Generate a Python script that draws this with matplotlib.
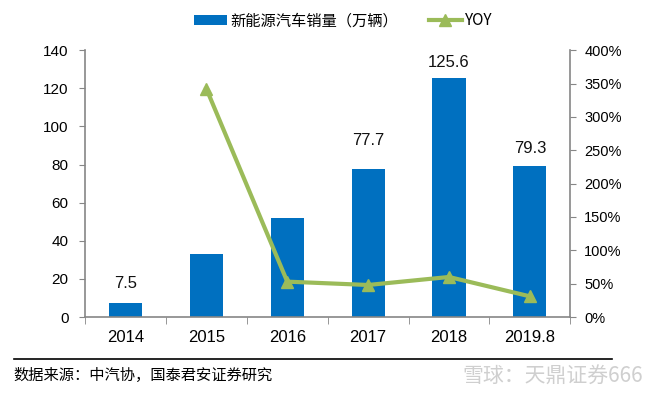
import numpy as np
import matplotlib.pyplot as plt
from matplotlib.ticker import FuncFormatter

plt.rcParams['font.family'] = ['Liberation Sans', 'Noto Sans CJK SC', 'DejaVu Sans']

years = ['2014', '2015', '2016', '2017', '2018', '2019.8']
sales = [7.5, 33.1, 51.7, 77.7, 125.6, 79.3]
yoy = [np.nan, 342, 53, 48, 60, 31]
shown_labels = {0: '7.5', 3: '77.7', 4: '125.6', 5: '79.3'}
label_offsets = {0: 10, 3: 15, 4: 8, 5: 9}

blue = '#0070C0'
green = '#9BBB59'
grey = '#868686'

fig = plt.figure(figsize=(6.6, 3.98), dpi=100)
ax = fig.add_axes([0.129, 0.2035, 0.735, 0.6705])
ax2 = ax.twinx()

x = np.arange(len(years))
bars = ax.bar(x, sales, width=0.41, color=blue, zorder=2, label='新能源汽车销量（万辆）')
for i, txt in shown_labels.items():
    ax.text(x[i], sales[i] + label_offsets[i], txt, ha='center', va='center',
            fontsize=12, color='#111111')

line, = ax2.plot(x, yoy, color=green, lw=3, marker='^', ms=9,
                 markerfacecolor=green, markeredgecolor=green, label='YOY')

ax.set_xlim(-0.5, len(years) - 0.5)
ax.set_ylim(0, 140)
ax.set_yticks(range(0, 141, 20))
ax2.set_ylim(0, 400)
ax2.set_yticks(range(0, 401, 50))
ax2.yaxis.set_major_formatter(FuncFormatter(lambda v, p: f'{int(v)}%'))

ax.set_xticks(x)
ax.set_xticklabels(years, fontsize=12)
ax.set_xticks(np.arange(-0.5, len(years), 1), minor=True)
ax.tick_params(axis='x', which='major', length=0, pad=9)
ax.tick_params(axis='x', which='minor', length=5, color=grey, direction='out')
ax.tick_params(axis='y', labelsize=11, length=4, color=grey, pad=8)
ax2.tick_params(axis='y', labelsize=10.5, length=4, color=grey, pad=6)

for a in (ax, ax2):
    a.spines['top'].set_visible(False)
    for s in ('left', 'right', 'bottom'):
        a.spines[s].set_color(grey)
        a.spines[s].set_linewidth(1.2)
ax.spines['right'].set_visible(False)
ax2.spines['left'].set_visible(False)
ax2.spines['bottom'].set_visible(False)

fig.legend(handles=[bars, line], loc='center', bbox_to_anchor=(0.52, 0.948), ncol=2,
           frameon=False, fontsize=11, handlelength=2.2, handletextpad=0.2,
           columnspacing=2.0, prop={'family': ['Noto Sans CJK SC'], 'size': 11})

fig.add_artist(plt.Line2D([0.021, 0.927], [0.098, 0.098], color='black', lw=1.2))
fig.text(0.021, 0.057, '数据来源：中汽协，国泰君安证券研究', fontsize=11,
         family=['Noto Sans CJK SC'], va='center', ha='left')
fig.text(0.975, 0.057, '雪球：天鼎证券666', fontsize=15, color='#cfcfcf',
         family=['Noto Sans CJK SC'], va='center', ha='right')

fig.savefig('out.png', dpi=100)
